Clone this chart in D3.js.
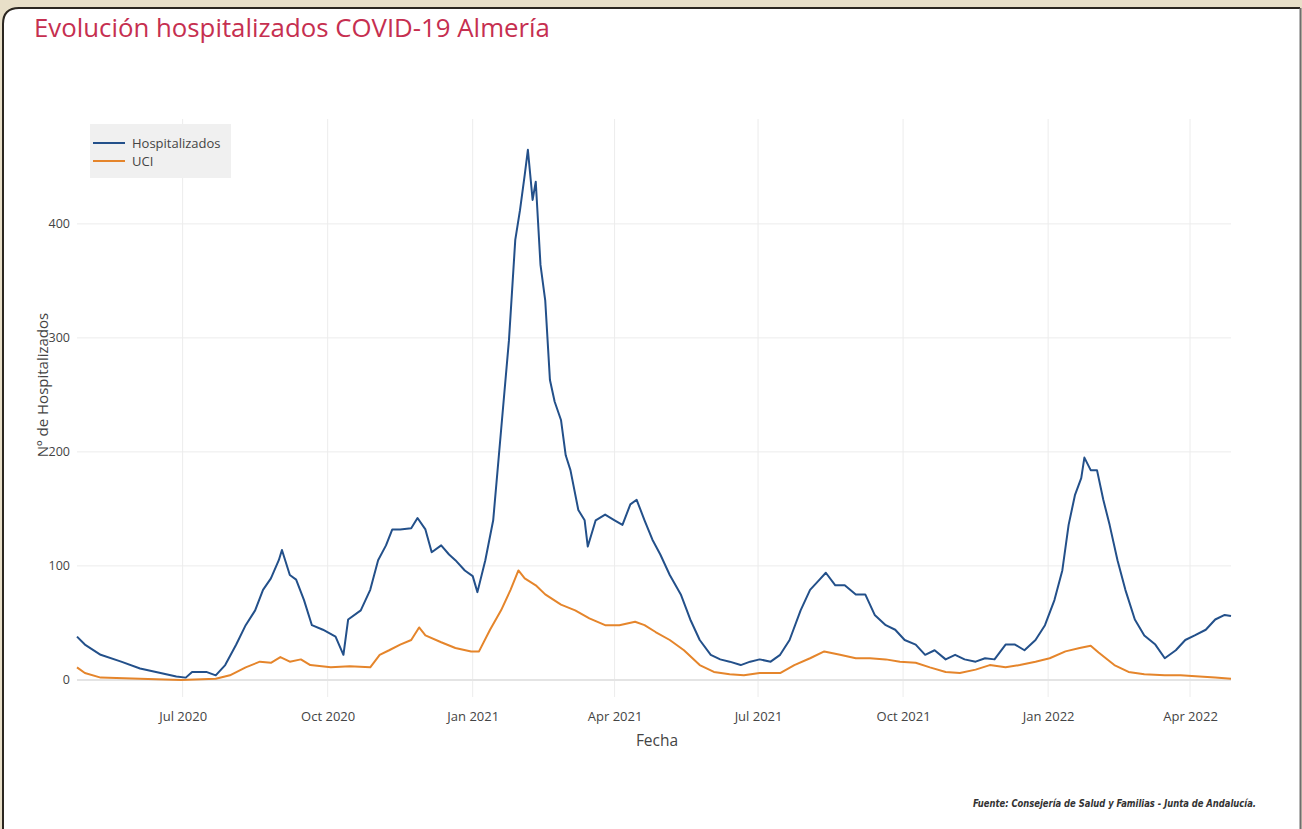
<!DOCTYPE html>
<html>
<head>
<meta charset="utf-8">
<script src="https://cdn.jsdelivr.net/npm/d3@7"></script>
<style>
  body { margin: 0; background: #e8dfc8; }
  svg { display: block; }
</style>
</head>
<body>
<svg width="1302" height="829"></svg>
<script>
// data
const hospDates = ["2020-04-25","2020-04-30","2020-05-10","2020-05-23","2020-06-04","2020-06-17","2020-06-27","2020-07-03","2020-07-07","2020-07-16","2020-07-22","2020-07-28","2020-08-04","2020-08-10","2020-08-16","2020-08-21","2020-08-26","2020-08-31","2020-09-02","2020-09-07","2020-09-11","2020-09-16","2020-09-21","2020-09-28","2020-10-06","2020-10-11","2020-10-14","2020-10-22","2020-10-28","2020-11-02","2020-11-07","2020-11-11","2020-11-16","2020-11-23","2020-11-27","2020-12-02","2020-12-06","2020-12-12","2020-12-17","2020-12-21","2020-12-27","2021-01-01","2021-01-04","2021-01-09","2021-01-14","2021-01-19","2021-01-24","2021-01-28","2021-01-31","2021-02-03","2021-02-05","2021-02-08","2021-02-10","2021-02-13","2021-02-16","2021-02-19","2021-02-22","2021-02-26","2021-03-01","2021-03-04","2021-03-09","2021-03-13","2021-03-15","2021-03-20","2021-03-26","2021-04-01","2021-04-06","2021-04-11","2021-04-15","2021-04-20","2021-04-25","2021-04-30","2021-05-06","2021-05-13","2021-05-19","2021-05-25","2021-06-01","2021-06-07","2021-06-13","2021-06-20","2021-06-26","2021-07-02","2021-07-09","2021-07-15","2021-07-21","2021-07-28","2021-08-03","2021-08-09","2021-08-13","2021-08-19","2021-08-25","2021-09-01","2021-09-07","2021-09-13","2021-09-20","2021-09-26","2021-10-02","2021-10-09","2021-10-15","2021-10-21","2021-10-28","2021-11-03","2021-11-09","2021-11-16","2021-11-22","2021-11-28","2021-12-05","2021-12-11","2021-12-17","2021-12-24","2021-12-30","2022-01-05","2022-01-10","2022-01-14","2022-01-18","2022-01-22","2022-01-24","2022-01-28","2022-02-01","2022-02-05","2022-02-09","2022-02-14","2022-02-19","2022-02-25","2022-03-03","2022-03-10","2022-03-16","2022-03-23","2022-03-29","2022-04-04","2022-04-11","2022-04-17","2022-04-23","2022-04-27"];
const hospValues = [38,31,22,16,10,6,3,2,7,7,4,13,31,48,61,79,89,105,114,92,88,70,48,44,38,22,53,61,79,105,118,132,132,133,142,132,112,118,110,105,96,91,77,105,140,219,298,386,412,443,465,421,437,364,333,263,244,228,197,184,149,140,117,140,145,140,136,154,158,140,123,110,92,75,53,35,22,18,16,13,16,18,16,22,35,61,79,88,94,83,83,75,75,57,48,44,35,31,22,26,18,22,18,16,19,18,31,31,26,35,48,70,96,136,162,177,195,184,184,158,136,105,79,53,39,31,19,26,35,39,44,53,57,56];

const uciDates = ["2020-04-25","2020-04-30","2020-05-10","2020-06-04","2020-06-30","2020-07-22","2020-07-31","2020-08-10","2020-08-19","2020-08-26","2020-09-01","2020-09-07","2020-09-14","2020-09-20","2020-10-03","2020-10-15","2020-10-28","2020-11-03","2020-11-09","2020-11-16","2020-11-23","2020-11-28","2020-12-02","2020-12-12","2020-12-21","2020-12-31","2021-01-05","2021-01-12","2021-01-19","2021-01-25","2021-01-30","2021-02-03","2021-02-10","2021-02-16","2021-02-26","2021-03-07","2021-03-16","2021-03-26","2021-04-04","2021-04-14","2021-04-20","2021-04-27","2021-05-06","2021-05-15","2021-05-25","2021-06-03","2021-06-13","2021-06-22","2021-07-02","2021-07-15","2021-07-24","2021-08-03","2021-08-12","2021-08-22","2021-09-01","2021-09-10","2021-09-20","2021-09-29","2021-10-09","2021-10-18","2021-10-28","2021-11-06","2021-11-16","2021-11-25","2021-12-05","2021-12-14","2021-12-24","2022-01-02","2022-01-12","2022-01-21","2022-01-28","2022-02-02","2022-02-12","2022-02-21","2022-03-03","2022-03-16","2022-03-26","2022-04-07","2022-04-17","2022-04-27"];
const uciValues = [11,6,2,1,0,1,4,11,16,15,20,16,18,13,11,12,11,22,26,31,35,46,39,33,28,25,25,44,61,79,96,89,83,75,66,61,54,48,48,51,48,42,35,26,13,7,5,4,6,6,13,19,25,22,19,19,18,16,15,11,7,6,9,13,11,13,16,19,25,28,30,24,13,7,5,4,4,3,2,1];

const yTicks = [0, 100, 200, 300, 400];
const seriesNames = ["Hospitalizados", "UCI"];
const seriesColors = ["#23508a", "#e5852b"];

const parse = d3.timeParse("%Y-%m-%d");
const hosp = hospDates.map((d, i) => ({date: parse(d), value: hospValues[i]}));
const uci = uciDates.map((d, i) => ({date: parse(d), value: uciValues[i]}));

var svg = d3.select("svg");
var width = +svg.attr("width");
var height = +svg.attr("height");

// page frame
svg.append("rect").attr("width", width).attr("height", height).attr("fill", "#e8dfc8");
svg.append("path")
    .attr("d", "M3,835 L3,24 Q3,8 19,8 L1300,8 L1300,835 Z")
    .attr("fill", "#ffffff");
svg.append("path")
    .attr("d", "M3,835 L3,24 Q3,8 19,8 L1300,8")
    .attr("fill", "none").attr("stroke", "#2b2620").attr("stroke-width", 2);
svg.append("line")
    .attr("x1", 1300.5).attr("x2", 1300.5).attr("y1", 8).attr("y2", 835)
    .attr("stroke", "#6e6e6e").attr("stroke-width", 2);

// plot area
var plotLeft = 77, plotRight = 1231, plotTop = 119, plotBottom = 697;

var x = d3.scaleTime()
    .domain([parse("2020-04-25"), parse("2022-04-27")])
    .range([plotLeft, plotRight]);
var y = d3.scaleLinear()
    .domain([-15, 492])
    .range([plotBottom, plotTop]);

var xTicks = x.ticks(d3.timeMonth.every(3));

// grid
svg.append("g")
    .selectAll("line")
    .data(xTicks)
    .enter()
    .append("line")
    .attr("x1", d => x(d)).attr("x2", d => x(d))
    .attr("y1", plotTop).attr("y2", plotBottom)
    .attr("stroke", "#ececec").attr("stroke-width", 1);

svg.append("g")
    .selectAll("line")
    .data(yTicks)
    .enter()
    .append("line")
    .attr("x1", plotLeft).attr("x2", plotRight)
    .attr("y1", d => y(d)).attr("y2", d => y(d))
    .attr("stroke", d => d === 0 ? "#e4e4e4" : "#ececec")
    .attr("stroke-width", d => d === 0 ? 2 : 1);

// axes
var xAxis = svg.append("g")
    .attr("transform", "translate(0," + (plotBottom + 12) + ")")
    .call(d3.axisBottom(x).tickValues(xTicks).tickFormat(d3.timeFormat("%b %Y")).tickSize(0));
xAxis.select(".domain").remove();
xAxis.selectAll("text")
    .attr("font-family", "Open Sans")
    .attr("font-size", 13)
    .attr("fill", "#444");

var yAxis = svg.append("g")
    .attr("transform", "translate(" + (plotLeft - 4) + ",0)")
    .call(d3.axisLeft(y).tickValues(yTicks).tickSize(0));
yAxis.select(".domain").remove();
yAxis.selectAll("text")
    .attr("font-family", "Open Sans")
    .attr("font-size", 12.5)
    .attr("fill", "#444");

// lines
var line = d3.line()
    .x(d => x(d.date))
    .y(d => y(d.value));

svg.append("path")
    .datum(uci)
    .attr("d", line)
    .attr("fill", "none")
    .attr("stroke", seriesColors[1])
    .attr("stroke-width", 2)
    .attr("stroke-linejoin", "round");

svg.append("path")
    .datum(hosp)
    .attr("d", line)
    .attr("fill", "none")
    .attr("stroke", seriesColors[0])
    .attr("stroke-width", 2)
    .attr("stroke-linejoin", "round");

// legend
var legend = svg.append("g").attr("transform", "translate(90,124)");
legend.append("rect")
    .attr("width", 141).attr("height", 54)
    .attr("fill", "#f0f0f0");
var items = legend.selectAll("g")
    .data(seriesNames)
    .enter()
    .append("g")
    .attr("transform", (d, i) => "translate(0," + (19 + i * 18) + ")");
items.append("line")
    .attr("x1", 3).attr("x2", 35)
    .attr("stroke", (d, i) => seriesColors[i])
    .attr("stroke-width", 2);
items.append("text")
    .attr("x", 42).attr("dy", "0.35em")
    .attr("font-family", "Open Sans")
    .attr("font-size", 13)
    .attr("fill", "#444")
    .text(d => d);

// titles
svg.append("text")
    .attr("x", 34).attr("y", 37)
    .attr("font-family", "Open Sans")
    .attr("font-size", 25.8)
    .attr("fill", "#c62f50")
    .text("Evolución hospitalizados COVID-19 Almería");

svg.append("text")
    .attr("transform", "translate(48,385) rotate(-90)")
    .attr("text-anchor", "middle")
    .attr("font-family", "Open Sans")
    .attr("font-size", 15)
    .attr("fill", "#444")
    .text("Nº de Hospitalizados");

svg.append("text")
    .attr("x", (plotLeft + plotRight) / 2 + 3).attr("y", 746)
    .attr("text-anchor", "middle")
    .attr("font-family", "Open Sans")
    .attr("font-size", 15.5)
    .attr("fill", "#444")
    .text("Fecha");

svg.append("text")
    .attr("x", 973).attr("y", 807)
    .attr("font-family", "DejaVu Sans Condensed, DejaVu Sans")
    .attr("font-style", "italic")
    .attr("font-weight", "bold")
    .attr("font-size", 10)
    .attr("fill", "#333")
    .attr("textLength", 283)
    .attr("lengthAdjust", "spacingAndGlyphs")
    .text("Fuente: Consejería de Salud y Familias - Junta de Andalucía.");
</script>
</body>
</html>
